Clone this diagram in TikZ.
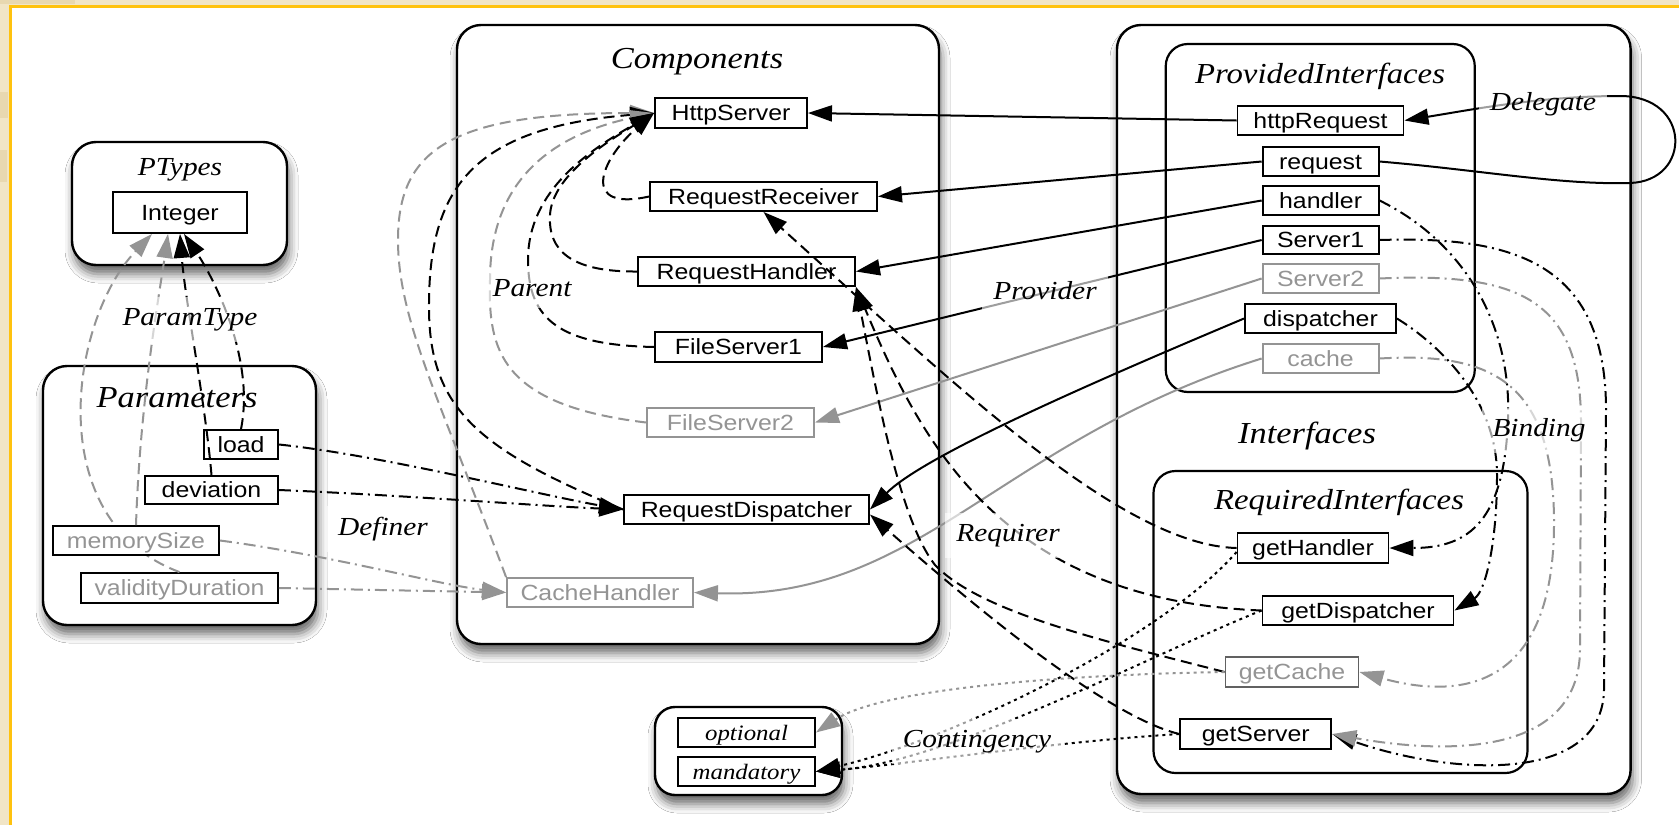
\documentclass[tikz,border=0pt]{standalone}
\usepackage{fontspec}
\newfontfamily\boxfont{Liberation Sans}[FakeStretch=1.13]
\newfontfamily\labfont{Liberation Serif}[FakeStretch=1.13]
\usetikzlibrary{arrows.meta,shadows.blur,calc}

\definecolor{beige}{HTML}{F1E5C6}
\definecolor{tanc}{HTML}{E8D8B0}
\definecolor{frameyellow}{HTML}{FFC20E}
\colorlet{greyc}{black!42}

\tikzset{
  grp/.style={draw, line width=2.4pt, fill=white, rounded corners=24pt,
    blur shadow={shadow xshift=2pt, shadow yshift=-9pt, shadow blur radius=9pt, shadow opacity=60}},
  subgrp/.style={draw, line width=2.2pt, fill=white, rounded corners=22pt},
  ttl/.style={anchor=base, font=\labfont\itshape\fontsize{30.5}{34}\selectfont},
  sttl/.style={anchor=base, font=\labfont\itshape\fontsize{29}{33}\selectfont},
  pttl/.style={anchor=base, font=\labfont\itshape\fontsize{26}{30}\selectfont},
  ibox/.style={draw, line width=1.9pt, fill=white, minimum height=29pt, inner sep=0pt,
    text height=17.5pt, text depth=1.7pt, font=\boxfont\fontsize{22}{26}\selectfont},
  gbox/.style={ibox, draw=greyc, text=greyc},
  gtbox/.style={ibox, text=greyc},
  kbox/.style={ibox, font=\labfont\itshape\fontsize{22}{26}\selectfont},
  elabel/.style={anchor=base, font=\labfont\itshape\fontsize{26}{30}\selectfont,
    fill=white, fill opacity=0.62, text opacity=1, inner sep=11pt},
  conn/.style={line width=2pt, -{Triangle[length=24pt,width=16pt]}},
  gconn/.style={conn, draw=greyc},
  dsh/.style={dash pattern=on 11pt off 6pt},
  dshdot/.style={dash pattern=on 12pt off 5pt on 2pt off 5pt},
  dts/.style={dash pattern=on 3pt off 4pt},
  prov/.style={conn},
  gprov/.style={gconn},
  parent/.style={conn, dsh},
  gparent/.style={gconn, dsh},
  req/.style={conn, dsh},
  ptype/.style={conn, dsh},
  gptype/.style={gconn, dsh},
  defn/.style={conn, dshdot},
  gdefn/.style={gconn, dshdot},
  bind/.style={conn, dshdot},
  gbind/.style={gconn, dshdot},
  cont/.style={conn, dts},
  gcont/.style={gconn, dts}
}

\begin{document}
\begin{tikzpicture}[x=1pt, y=-1pt]
\useasboundingbox (0,0) rectangle (1679,825);

% page frame
\fill[beige] (0,0) rectangle (1679,825);
\fill[tanc] (0,0) rectangle (75,4);
\fill[tanc] (0,92) rectangle (8,118);
\fill[tanc] (0,150) rectangle (7,182);
\fill[white] (10,6) rectangle (1679,825);
\draw[frameyellow, line width=3.5pt] (10.3,825) -- (10.3,6.7) -- (1679,6.7);

% containers
\node[grp, minimum width=215pt, minimum height=123pt] (ptypes) at (179.5,203.5) {};
\node[grp, minimum width=273pt, minimum height=259pt] (params) at (179.5,495.5) {};
\node[grp, minimum width=482pt, minimum height=619pt] (comps) at (698,334.5) {};
\node[grp, minimum width=513.6pt, minimum height=769pt] (ifaces) at (1373.8,409.5) {};
\node[subgrp, minimum width=309pt, minimum height=348pt] (provided) at (1320.25,218) {};
\node[subgrp, minimum width=374pt, minimum height=302pt] (required) at (1340.5,622) {};
\node[grp, rounded corners=20pt, minimum width=187pt, minimum height=88pt] (kinds) at (748.5,751) {};

% container titles
\node[pttl] (ptypesT) at (180,175) {PTypes};
\node[ttl] (paramsT) at (177,407.7) {Parameters};
\node[ttl] (compsT) at (697,68) {Components};
\node[sttl] (providedT) at (1320,83.3) {ProvidedInterfaces};
\node[ttl] (ifacesT) at (1307,443.3) {Interfaces};
\node[sttl] (requiredT) at (1339,509.3) {RequiredInterfaces};

% types and parameters
\node[ibox, minimum width=134pt, minimum height=41pt] (integer) at (180,212.5) {Integer};
\node[ibox, minimum width=74pt] (load) at (241,444.5) {load};
\node[ibox, minimum width=133pt, minimum height=28pt] (deviation) at (211.5,490) {deviation};
\node[gtbox, minimum width=197pt, minimum height=30pt] (validity) at (179.5,588) {validityDuration};

% this type link runs behind the memorySize box
\draw[gptype] (validity.north) .. controls (40,520) and (70,320) .. ($(integer.south)+(-28,0)$);

\node[gtbox, minimum width=166pt] (memsize) at (136,540.5) {memorySize};

% components
\node[ibox, minimum width=152pt, minimum height=30pt] (httpserver) at (731,113) {HttpServer};
\node[ibox, minimum width=227pt] (receiver) at (763.5,196.5) {RequestReceiver};
\node[ibox, minimum width=217pt] (handlerC) at (746.5,271.5) {RequestHandler};
\node[ibox, minimum width=167pt, minimum height=30pt] (fs1) at (738.5,347) {FileServer1};
\node[gbox, minimum width=167pt] (fs2) at (730.5,422.5) {FileServer2};
\node[ibox, minimum width=245pt] (rdisp) at (746.5,509.5) {RequestDispatcher};
\node[gbox, minimum width=186pt] (cacheh) at (600,592.5) {CacheHandler};

% provided interfaces
\node[ibox, minimum width=166pt] (httpreq) at (1320.5,120.5) {httpRequest};
\node[ibox, minimum width=116pt] (requestI) at (1320.6,161.5) {request};
\node[ibox, minimum width=116pt] (handlerI) at (1320.6,200.5) {handler};
\node[ibox, minimum width=116pt, minimum height=28pt] (server1) at (1320.6,240) {Server1};
\node[gbox, minimum width=116pt] (server2) at (1320.6,278.5) {Server2};
\node[ibox, minimum width=151pt] (dispatcherI) at (1320.5,318.5) {dispatcher};
\node[gbox, minimum width=116pt] (cacheI) at (1320.6,358.5) {cache};

% required interfaces
\node[ibox, minimum width=151pt, minimum height=30pt] (gethandler) at (1313,548) {getHandler};
\node[ibox, minimum width=191pt] (getdisp) at (1358,610.5) {getDispatcher};
\node[gbox, draw=black!62, minimum width=133pt, minimum height=30pt] (getcache) at (1292,672) {getCache};
\node[ibox, minimum width=151pt, minimum height=30pt] (getserver) at (1255.8,734) {getServer};

% contingency kinds
\node[kbox, minimum width=137pt] (optional) at (746.5,732.5) {optional};
\node[kbox, minimum width=137pt] (mandatory) at (746.5,771.5) {mandatory};

% ParamType
\draw[ptype] (deviation.north) .. controls (205,400) and (185,300) .. (integer.south);
\draw[ptype] (load.north) .. controls (255,360) and (215,280) .. ($(integer.south)+(4,0)$);
\draw[gptype] (memsize.north) .. controls (140,400) and (160,290) .. ($(integer.south)+(-12,0)$);

% Definer
\draw[defn] (load.east) .. controls (380,455) and (540,495) .. (rdisp.west);
\draw[defn] (deviation.east) .. controls (400,495) and (540,506) .. (rdisp.west);
\draw[gdefn] (memsize.east) .. controls (330,555) and (440,585) .. (cacheh.west);
\draw[gdefn] (validity.east) -- (cacheh.west);

% Parent
\draw[gparent] (cacheh.north west) .. controls (440,400) and (398,320) .. (398,240)
  .. controls (398,150) and (450,113) .. (httpserver.west);
\draw[parent] (rdisp.west) .. controls (480,450) and (430,410) .. (429,310)
  .. controls (428,190) and (470,128) .. (httpserver.west);
\draw[gparent] (fs2.west) .. controls (500,405) and (488,350) .. (490,280)
  .. controls (490,200) and (530,140) .. (httpserver.west);
\draw[parent] (fs1.west) .. controls (560,345) and (528,320) .. (528,260)
  .. controls (528,190) and (590,150) .. (httpserver.west);
\draw[parent] (handlerC.west) .. controls (570,272) and (548,250) .. (550,215)
  .. controls (552,175) and (610,140) .. (httpserver.west);
\draw[parent] (receiver.west) .. controls (580,212) and (600,160) .. (httpserver.west);

% Provider
\draw[prov] (httpreq.west) -- (httpserver.east);
\draw[prov] (requestI.west) -- (receiver.east);
\draw[prov] (handlerI.west) -- (handlerC.east);
\draw[prov] (server1.west) -- (fs1.east);
\draw[gprov] (server2.west) -- (fs2.east);
\draw[prov] (dispatcherI.west) .. controls (1050,400) and (920,460) .. (rdisp.east);
\draw[gprov] (cacheI.west) .. controls (1000,440) and (920,600) .. (cacheh.east);

% Requirer
\draw[req] (gethandler.west) .. controls (1120,545) and (950,380) .. (receiver.south);
\draw[req] (getdisp.west) .. controls (1000,600) and (920,440) .. (handlerC.south east);
\draw[req] (getcache.west) .. controls (1100,640) and (980,612) .. (935,565)
  .. controls (900,520) and (878,400) .. (handlerC.south east);
\draw[req] (getserver.west) .. controls (1100,715) and (950,585) .. ($(rdisp.east)+(0,5)$);

% Contingency
\draw[cont] ($(gethandler.west)+(0,4)$) .. controls (1160,640) and (950,740) .. (mandatory.east);
\draw[cont] (getdisp.west) .. controls (1150,655) and (950,762) .. (mandatory.east);
\draw[cont] (getserver.west) .. controls (1050,742) and (900,765) .. (mandatory.east);
\draw[gcont] (getcache.west) .. controls (1050,675) and (880,690) .. (optional.east);

% Binding
\draw[bind] (handlerI.east) .. controls (1460,240) and (1512,320) .. (1508,420)
  .. controls (1504,520) and (1470,548) .. (gethandler.east);
\draw[bind] (dispatcherI.east) .. controls (1440,345) and (1497,400) .. (1497,475)
  .. controls (1497,545) and (1485,592) .. (getdisp.east);
\draw[bind] (server1.east) .. controls (1510,236) and (1606,260) .. (1606,410)
  -- (1604,690) .. controls (1602,785) and (1450,775) .. (getserver.east);
\draw[gbind] (server2.east) .. controls (1520,272) and (1580,300) .. (1581,420)
  -- (1580,650) .. controls (1579,755) and (1450,755) .. (getserver.east);
\draw[gbind] (cacheI.east) .. controls (1490,352) and (1553,380) .. (1554,520)
  .. controls (1555,690) and (1460,700) .. (getcache.east);

% Delegate
\draw[prov] (requestI.east) .. controls (1480,170) and (1560,185) .. (1630,183)
  .. controls (1692,181) and (1692,96) .. (1620,96)
  .. controls (1540,96) and (1470,110) .. (httpreq.east);

% relation names
\node[elabel] (lParamType) at (190,325) {ParamType};
\node[elabel] (lParent) at (532,296.6) {Parent};
\node[elabel] (lProvider) at (1045,299.3) {Provider};
\node[elabel] (lDefiner) at (383,535.7) {Definer};
\node[elabel] (lRequirer) at (1008,541.7) {Requirer};
\node[elabel] (lContingency) at (977,747.3) {Contingency};
\node[elabel] (lBinding) at (1539,436.7) {Binding};
\node[elabel] (lDelegate) at (1543,110) {Delegate};
\end{tikzpicture}
\end{document}
